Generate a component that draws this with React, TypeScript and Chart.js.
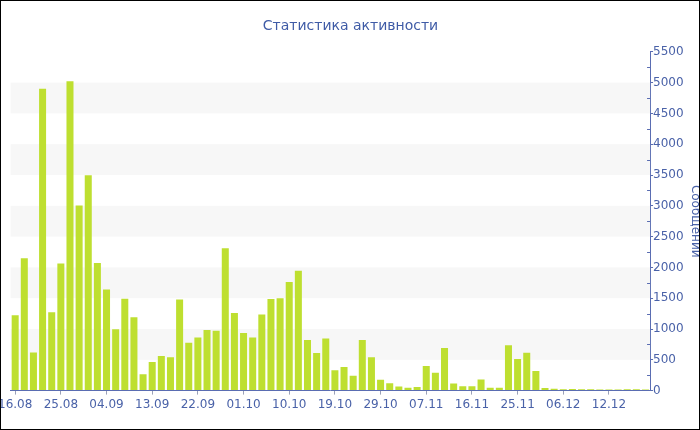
import React, { useEffect, useRef } from 'react';
import { Chart, registerables } from 'chart.js';

Chart.register(...registerables);

const chartTitle = 'Статистика активности';
const axisTitle = 'Сообщений';
const tickLabels = ['16.08', '25.08', '04.09', '13.09', '22.09', '01.10', '10.10', '19.10', '29.10', '07.11', '16.11', '25.11', '06.12', '12.12'];
const messages = [
  1225, 2150, 620, 4900, 1270, 2065, 5020, 3005, 3495, 2070,
  1640, 995, 1490, 1190, 265, 465, 560, 540, 1480, 775,
  860, 985, 970, 2310, 1260, 935, 860, 1235, 1485, 1500,
  1765, 1945, 820, 610, 845, 330, 385, 240, 820, 540,
  175, 120, 65, 45, 60, 400, 290, 690, 115, 70,
  70, 180, 45, 45, 735, 515, 615, 320, 43, 32,
  22, 27, 22, 22, 16, 16, 16, 22, 22, 16,
];
const labelEvery = 5;
const categories = messages.map((_, i) => (i % labelEvery === 0 ? tickLabels[i / labelEvery] || '' : ''));

const textColor = '#4a62a8';
const axisColor = '#5a6db2';
const barColor = '#bedf30';
const bandColor = '#f7f7f7';
const FONT = "'DejaVu Sans', Verdana, sans-serif";

const bandsPlugin = {
  id: 'bands',
  beforeDatasetsDraw(chart: any) {
    const { ctx, chartArea, scales } = chart;
    const y = scales.y;
    ctx.save();
    ctx.fillStyle = bandColor;
    for (let v = 500; v < 5500; v += 1000) {
      const top = y.getPixelForValue(v + 500);
      const bottom = y.getPixelForValue(v);
      ctx.fillRect(chartArea.left, top, chartArea.right - chartArea.left, bottom - top);
    }
    ctx.restore();
  },
  afterDraw(chart: any) {
    const { ctx, chartArea, scales } = chart;
    const y = scales.y;
    ctx.save();
    ctx.strokeStyle = axisColor;
    ctx.lineWidth = 1;
    for (let v = 250; v < 5500; v += 500) {
      const py = Math.round(y.getPixelForValue(v)) + 0.5;
      ctx.beginPath();
      ctx.moveTo(chartArea.right - 3, py);
      ctx.lineTo(chartArea.right, py);
      ctx.stroke();
    }
    ctx.restore();
  },
};

export default function App() {
  const ref = useRef<HTMLCanvasElement>(null);
  useEffect(() => {
    if (!ref.current) return;
    const chart = new Chart(ref.current, {
      type: 'bar',
      data: {
        labels: categories,
        datasets: [
          {
            label: axisTitle,
            data: messages,
            backgroundColor: barColor,
            borderWidth: 0,
            categoryPercentage: 0.8,
            barPercentage: 0.96,
          },
        ],
      },
      options: {
        responsive: false,
        animation: false,
        devicePixelRatio: 1,
        layout: { padding: { left: 0, right: 0, top: 0, bottom: 14 } },
        plugins: {
          legend: { display: false },
          tooltip: { enabled: false },
          title: {
            display: true,
            text: chartTitle,
            color: '#3f5ba6',
            font: { family: FONT, size: 14, weight: 'normal' },
            padding: { top: 17, bottom: 17 },
          },
        },
        scales: {
          x: {
            offset: true,
            grid: {
              display: true,
              offset: false,
              drawOnChartArea: false,
              drawTicks: true,
              tickLength: 4,
              tickColor: (c: any) => (c.index % labelEvery === 0 ? '#9aa0b8' : 'rgba(0,0,0,0)'),
            },
            border: { display: true, color: axisColor, width: 1 },
            ticks: {
              autoSkip: false,
              maxRotation: 0,
              minRotation: 0,
              padding: 3,
              color: textColor,
              font: { family: FONT, size: 12 },
            },
          },
          y: {
            position: 'right',
            min: 0,
            max: 5500,
            grid: {
              display: true,
              drawOnChartArea: false,
              drawTicks: true,
              tickLength: 3,
              tickColor: axisColor,
            },
            border: { display: true, color: axisColor, width: 1 },
            ticks: {
              stepSize: 500,
              padding: 0,
              color: textColor,
              font: { family: FONT, size: 12 },
              callback: (v: any) => String(v),
            },
            title: {
              display: true,
              text: axisTitle,
              color: textColor,
              font: { family: FONT, size: 12 },
              padding: { top: 4, bottom: 4 },
            },
          },
        },
      },
      plugins: [bandsPlugin],
    });
    return () => chart.destroy();
  }, []);

  return (
    <div
      style={{
        position: 'fixed',
        left: 0,
        top: 0,
        width: 700,
        height: 430,
        boxSizing: 'border-box',
        border: '1px solid #000',
        overflow: 'hidden',
        background: '#fff',
      }}
    >
      <canvas
        ref={ref}
        width={711}
        height={428}
        style={{ position: 'absolute', left: -6, top: 0, width: 711, height: 428 }}
      />
    </div>
  );
}
